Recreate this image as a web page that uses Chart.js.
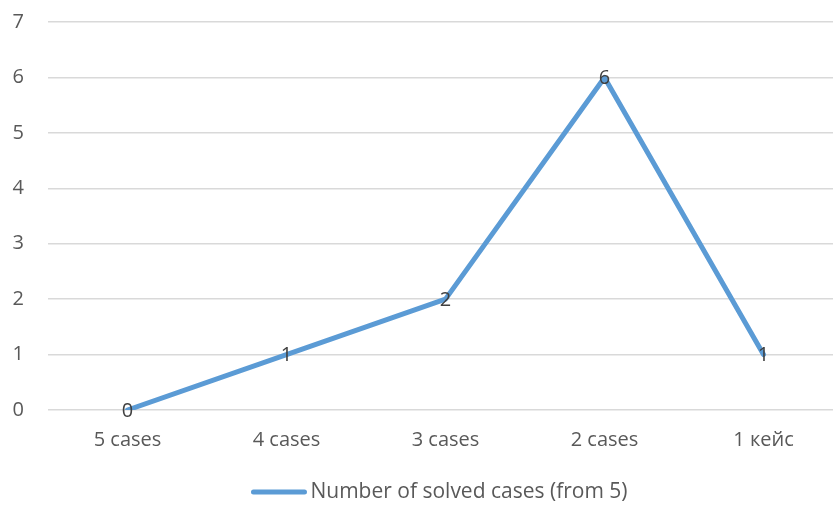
<!DOCTYPE html>
<html>
<head>
<meta charset="utf-8">
<script src="https://cdn.jsdelivr.net/npm/chart.js@4"></script>
<style>
  html, body { margin: 0; padding: 0; background: #fff; overflow: hidden; }
  #wrap { width: 843px; height: 506px; position: relative; }
</style>
</head>
<body>
<div id="wrap"><canvas id="c"></canvas></div>
<script>
const categories = ['5 cases', '4 cases', '3 cases', '2 cases', '1 кейс'];
const solvedCases = [0, 1, 2, 6, 1];
const seriesName = 'Number of solved cases (from 5)';
const yTicks = [0, 1, 2, 3, 4, 5, 6, 7];

const FONT = '"Open Sans", "Liberation Sans", sans-serif';
const BLUE = '#5B9BD5';
const TEXT = '#595959';

// Value labels drawn centred on each point
const pointLabels = {
  id: 'pointLabels',
  afterDatasetsDraw(chart) {
    const ctx = chart.ctx;
    const meta = chart.getDatasetMeta(0);
    ctx.save();
    ctx.font = '20px ' + FONT;
    ctx.fillStyle = '#404040';
    ctx.textAlign = 'center';
    ctx.textBaseline = 'middle';
    meta.data.forEach((pt, i) => {
      ctx.fillText(String(chart.data.datasets[0].data[i]), pt.x, pt.y + 1);
    });
    ctx.restore();
  }
};

// Legend row under the axis: line sample followed by the series name
const bottomLegend = {
  id: 'bottomLegend',
  afterDraw(chart) {
    const ctx = chart.ctx;
    const area = chart.chartArea;
    ctx.save();
    ctx.font = '21px ' + FONT;
    const sample = 55, gap = 4;
    const tw = ctx.measureText(seriesName).width;
    const total = sample + gap + tw;
    const x0 = (area.left + area.right) / 2 - total / 2 - 6;
    const y = chart.height - 14;
    ctx.strokeStyle = BLUE;
    ctx.lineWidth = 5;
    ctx.lineCap = 'round';
    ctx.beginPath();
    ctx.moveTo(x0 + 2, y);
    ctx.lineTo(x0 + sample - 2, y);
    ctx.stroke();
    ctx.fillStyle = TEXT;
    ctx.textAlign = 'left';
    ctx.textBaseline = 'middle';
    ctx.fillText(seriesName, x0 + sample + gap, y);
    ctx.restore();
  }
};

new Chart(document.getElementById('c'), {
  type: 'line',
  data: {
    labels: categories,
    datasets: [{
      label: seriesName,
      data: solvedCases,
      borderColor: BLUE,
      backgroundColor: BLUE,
      borderWidth: 5,
      pointRadius: 0,
      pointHoverRadius: 0,
      tension: 0,
      borderCapStyle: 'round',
      borderJoinStyle: 'round'
    }]
  },
  options: {
    responsive: true,
    maintainAspectRatio: false,
    animation: false,
    layout: { padding: { top: 22, left: 0, right: 0, bottom: 36 } },
    plugins: {
      tooltip: { enabled: false },
      legend: { display: false }
    },
    scales: {
      x: {
        offset: true,
        grid: { display: false, drawTicks: false },
        border: { display: false },
        ticks: {
          color: TEXT,
          font: { family: FONT, size: 20 },
          padding: 18
        }
      },
      y: {
        min: 0,
        max: 7,
        afterFit(scale) {
          scale.width = 48;
          scale.paddingTop = 0;
          scale.paddingBottom = 0;
        },
        afterBuildTicks(scale) { scale.ticks = yTicks.map(v => ({ value: v })); },
        grid: { color: '#d9d9d9', lineWidth: 1.5, drawTicks: false },
        border: { display: false },
        ticks: {
          color: TEXT,
          font: { family: FONT, size: 20 },
          padding: 24
        }
      }
    }
  },
  plugins: [pointLabels, bottomLegend]
});
</script>
</body>
</html>
